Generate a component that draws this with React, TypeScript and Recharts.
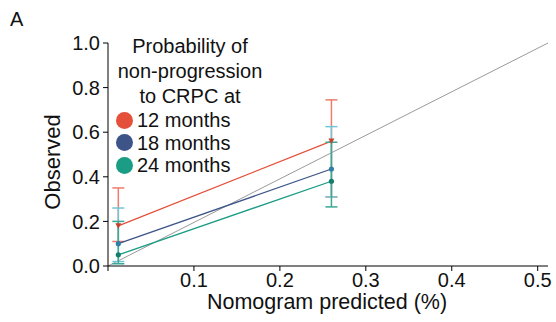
import React from 'react';
import {
  LineChart,
  Line,
  XAxis,
  YAxis,
  ErrorBar,
  ReferenceLine,
} from 'recharts';

// predicted probability at each calibration group
const predicted = [0.012, 0.26];

// observed + 95% CI, by time point
const obs12 = [0.18, 0.56];
const low12 = [0.11, 0.31];
const high12 = [0.35, 0.745];

const obs18 = [0.1, 0.435];
const low18 = [0.02, 0.31];
const high18 = [0.26, 0.625];

const obs24 = [0.05, 0.38];
const low24 = [0.01, 0.265];
const high24 = [0.2, 0.555];

const xTicks = [0, 0.1, 0.2, 0.3, 0.4, 0.5];
const yTicks = [0, 0.2, 0.4, 0.6, 0.8, 1.0];

const titleLines = ['Probability of', 'non-progression', 'to CRPC at'];
const legendItems = [
  { label: '12 months', color: '#e4503a' },
  { label: '18 months', color: '#3c5488' },
  { label: '24 months', color: '#1a9c85' },
];

const toRows = (obs: number[], lo: number[], hi: number[]) =>
  predicted.map((x, i) => ({ x, y: obs[i], err: [obs[i] - lo[i], hi[i] - obs[i]] }));

const rows12 = toRows(obs12, low12, high12);
const rows18 = toRows(obs18, low18, high18);
const rows24 = toRows(obs24, low24, high24);

const FONT = '"Liberation Sans", Arial, sans-serif';
const X_MAX = 0.512;

const triangle = (color: string) => (p: any) => (
  <path
    key={`tri-${p.index}`}
    d={`M${p.cx - 3},${p.cy - 2.5} L${p.cx + 3},${p.cy - 2.5} L${p.cx},${p.cy + 3} Z`}
    fill={color}
  />
);

const circle = (color: string) => (p: any) => (
  <circle key={`c-${p.index}`} cx={p.cx} cy={p.cy} r={2.6} fill={color} />
);

export default function App() {
  return (
    <div style={{ position: 'fixed', top: 0, left: 0, width: 556, height: 322, background: '#fff', fontFamily: FONT }}>
      <LineChart
        width={556}
        height={322}
        margin={{ top: 43, right: 8, bottom: 26, left: 48 }}
      >
        <XAxis
          type="number"
          dataKey="x"
          domain={[0, X_MAX]}
          ticks={xTicks}
          tickFormatter={(v: number) => (v === 0 ? '' : v.toFixed(1))}
          allowDataOverflow
          height={30}
          tickSize={5}
          tickMargin={2}
          stroke="#000"
          tick={{ fill: '#111', fontSize: 20, fontFamily: FONT }}
        />
        <YAxis
          type="number"
          domain={[0, 1]}
          ticks={yTicks}
          tickFormatter={(v: number) => v.toFixed(1)}
          width={60}
          tickSize={5}
          tickMargin={3}
          stroke="#000"
          tick={{ fill: '#111', fontSize: 20, fontFamily: FONT }}
        />
        <ReferenceLine
          segment={[{ x: 0, y: 0 }, { x: X_MAX, y: 1 }]}
          stroke="#9a9a9a"
          strokeWidth={1}
          ifOverflow="visible"
        />
        <Line
          data={rows12}
          dataKey="y"
          stroke="#e4503a"
          strokeWidth={1.3}
          dot={triangle('#c8402c')}
          isAnimationActive={false}
        >
          <ErrorBar dataKey="err" direction="y" width={6} stroke="#ef7d6c" strokeWidth={1.5} />
        </Line>
        <Line
          data={rows18}
          dataKey="y"
          stroke="#3c5488"
          strokeWidth={1.3}
          dot={circle('#2f7fa6')}
          isAnimationActive={false}
        >
          <ErrorBar dataKey="err" direction="y" width={6} stroke="#72c5d8" strokeWidth={1.5} />
        </Line>
        <Line
          data={rows24}
          dataKey="y"
          stroke="#1a9c85"
          strokeWidth={1.3}
          dot={circle('#137e6b')}
          isAnimationActive={false}
        >
          <ErrorBar dataKey="err" direction="y" width={6} stroke="#3aa892" strokeWidth={1.5} />
        </Line>
      </LineChart>

      <div style={{ position: 'absolute', left: 10, top: 9, fontSize: 20, lineHeight: 1, color: '#111' }}>A</div>

      <div
        style={{
          position: 'absolute',
          left: 53,
          top: 162,
          transform: 'translate(-50%, -50%) rotate(-90deg)',
          fontSize: 22,
          lineHeight: 1,
          color: '#111',
          whiteSpace: 'nowrap',
        }}
      >
        Observed
      </div>

      <div
        style={{
          position: 'absolute',
          left: 327,
          top: 292,
          transform: 'translateX(-50%)',
          fontSize: 21.5,
          lineHeight: 1,
          color: '#111',
          whiteSpace: 'nowrap',
        }}
      >
        Nomogram predicted (%)
      </div>

      <div style={{ position: 'absolute', left: 112, top: 34, width: 156, textAlign: 'center', fontSize: 20, lineHeight: '25px', color: '#111' }}>
        {titleLines.map((t) => (
          <div key={t}>{t}</div>
        ))}
      </div>

      <div style={{ position: 'absolute', left: 116, top: 109, fontSize: 20, lineHeight: '22.5px', color: '#111' }}>
        {legendItems.map((it) => (
          <div key={it.label} style={{ display: 'flex', alignItems: 'center', whiteSpace: 'nowrap' }}>
            <span
              style={{
                display: 'inline-block',
                width: 17,
                height: 17,
                borderRadius: '50%',
                background: it.color,
                marginRight: 4,
              }}
            />
            {it.label}
          </div>
        ))}
      </div>
    </div>
  );
}
